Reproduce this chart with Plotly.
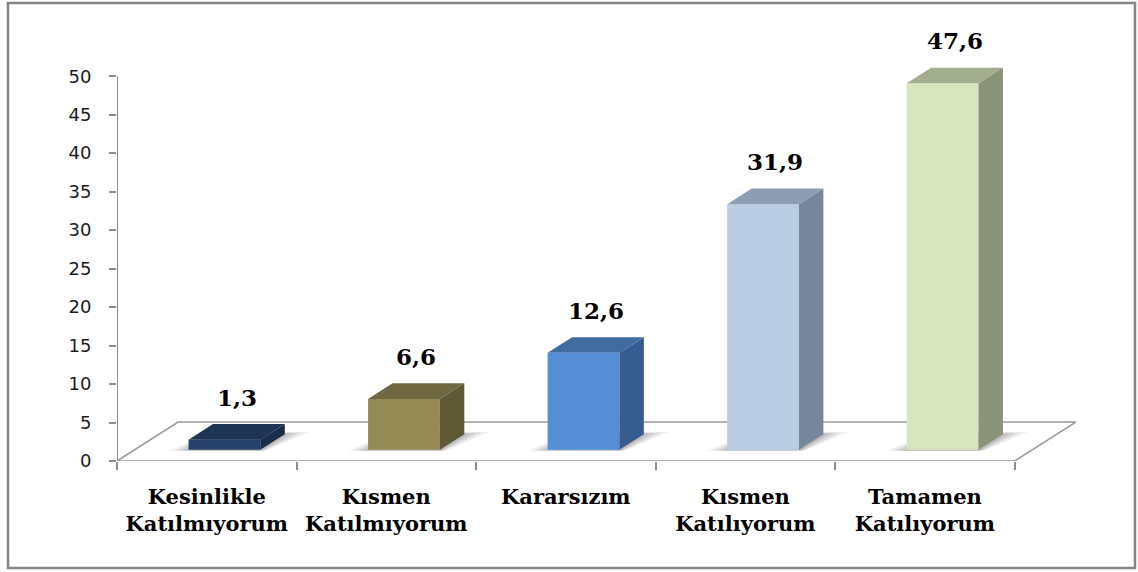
import plotly.graph_objects as go

# ---- data ----
categories = ["Kesinlikle<br>Katılmıyorum", "Kısmen<br>Katılmıyorum", "Kararsızım",
              "Kısmen<br>Katılıyorum", "Tamamen<br>Katılıyorum"]
values = [1.3, 6.6, 12.6, 31.9, 47.6]
y_ticks = [0, 5, 10, 15, 20, 25, 30, 35, 40, 45, 50]

front_colors = ["#25426a", "#948a54", "#558ed5", "#b9cde5", "#d7e4bd"]
top_colors = ["#1d3455", "#706841", "#3f6ba1", "#8c9db4", "#a3ae8f"]
side_colors = ["#1a2e4a", "#5e5835", "#355e8e", "#77879b", "#8a9478"]

# ---- 3D geometry (in axis units) ----
X_MAX, Y_MAX = 5.57, 58.6          # axis ranges
DX, DY = 0.34, 5.06                # floor depth vector
FRONT, BACK = 0.29, 0.69           # bar position inside the floor depth
BW = 0.40                          # bar width
BDX, BDY = (BACK - FRONT) * DX, (BACK - FRONT) * DY

W, H = 1138, 572
ML, MR, MT, MB = 117, 21, 10, 111
PW, PH = W - ML - MR, H - MT - MB

fig = go.Figure()


def poly(xs, ys, color, line_color=None, opacity=1.0):
    fig.add_trace(go.Scatter(
        x=xs + [xs[0]], y=ys + [ys[0]], mode="lines", fill="toself",
        fillcolor=color, opacity=opacity,
        line=dict(color=line_color or color, width=1.6 if line_color else 0),
        hoverinfo="skip", showlegend=False))


n = len(values)
# floor
poly([0, n, n + DX, DX], [0, 0, DY, DY], "white", line_color="#9a9a9a")

# soft shadows cast on the floor, sheared to the right
y0 = FRONT * DY
for i, v in enumerate(values):
    cx = i + 0.5 + FRONT * DX
    L, R = cx - BW / 2, cx + BW / 2
    for k, op in [(1.0, 0.09), (0.7, 0.11), (0.45, 0.13), (0.2, 0.15)]:
        yb = y0 + BDY * (1 + 0.15 * k)
        poly([L - 0.11 * k, R + 0.03 * k, R + BDX + 0.14 * k, L + BDX],
             [y0 - 0.15, y0 - 0.15, yb, yb],
             "#5a5a5a", opacity=op)

# bars: front, top and side faces
for i, v in enumerate(values):
    cx = i + 0.5 + FRONT * DX
    L, R = cx - BW / 2, cx + BW / 2
    y1 = y0 + v
    poly([L, R, R, L], [y0, y0, y1, y1], front_colors[i])
    poly([L, R, R + BDX, L + BDX], [y1, y1, y1 + BDY, y1 + BDY], top_colors[i])
    poly([R, R + BDX, R + BDX, R], [y0, y0 + BDY, y1 + BDY, y1], side_colors[i])
    fig.add_annotation(
        x=cx + BDX / 2, y=y1 + BDY, text=f"{v:.1f}".replace(".", ","),
        showarrow=False, yshift=27, yanchor="middle",
        font=dict(family="DejaVu Serif", size=23, color="black", weight="bold"))

# vertical axis line (0..50)
fig.add_shape(type="line", xref="x", yref="y", x0=0, x1=0, y0=0, y1=max(y_ticks),
              line=dict(color="#8c8c8c", width=2))


# outer frame
def px_x(p):
    return (p - ML) / PW


def px_y(p):
    return (H - MB - p) / PH


fig.add_shape(type="rect", xref="paper", yref="paper",
              x0=px_x(8), x1=px_x(1135), y0=px_y(568), y1=px_y(3),
              line=dict(color="#858585", width=2.5), fillcolor="rgba(0,0,0,0)",
              layer="below")

fig.update_layout(
    width=W, height=H,
    margin=dict(l=ML, r=MR, t=MT, b=MB),
    paper_bgcolor="white", plot_bgcolor="white",
    showlegend=False,
    xaxis=dict(
        range=[0, X_MAX], showgrid=False, zeroline=False, showline=False,
        tickmode="array", tickvals=[i + 0.5 for i in range(n)], ticktext=categories,
        ticks="", ticklabelstandoff=21,
        tickfont=dict(family="DejaVu Serif", size=21, color="black", weight="bold"),
        minor=dict(tickmode="array", tickvals=list(range(n + 1)), ticks="outside",
                   ticklen=8, tickwidth=2, tickcolor="#8c8c8c", showgrid=False),
        fixedrange=True),
    yaxis=dict(
        range=[0, Y_MAX], showgrid=False, zeroline=False, showline=False,
        tickmode="array", tickvals=y_ticks, ticks="outside", ticklen=7,
        tickwidth=2, tickcolor="#8c8c8c", ticklabelstandoff=14,
        tickfont=dict(family="DejaVu Sans", size=18, color="#1a1a1a"),
        fixedrange=True),
)

fig.write_html("out.html")
